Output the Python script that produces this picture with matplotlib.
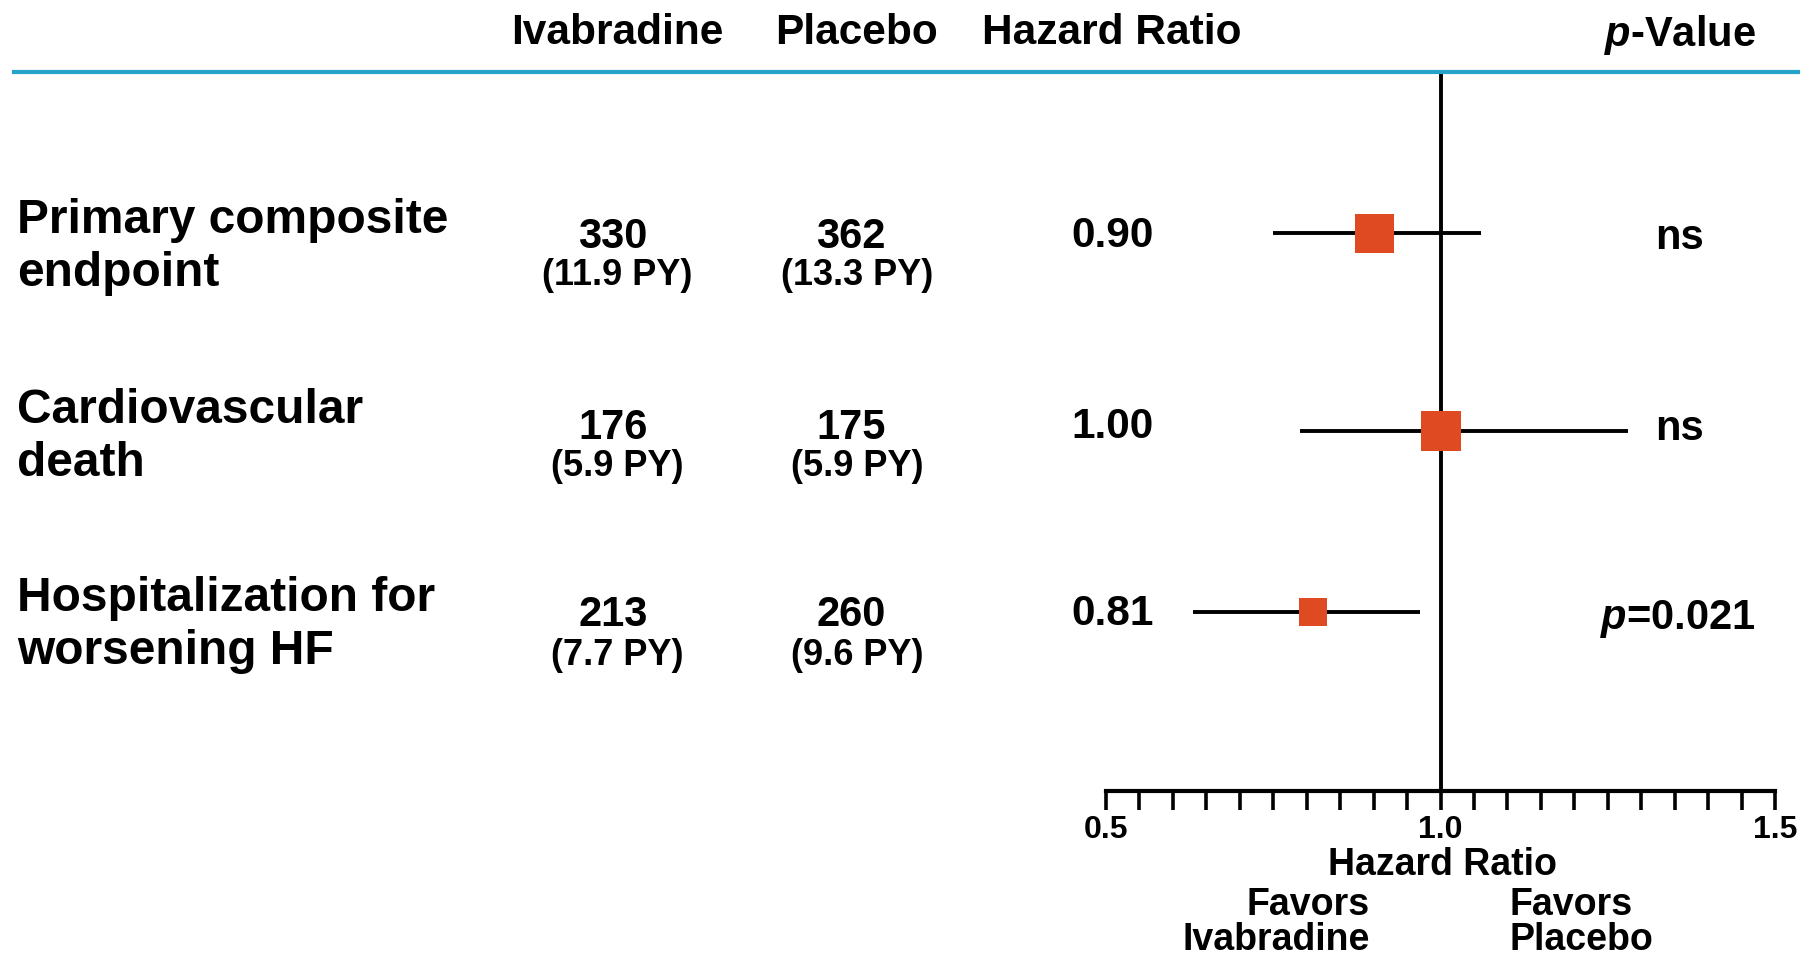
import matplotlib
matplotlib.use("Agg")
import matplotlib.pyplot as plt
from matplotlib.ticker import MultipleLocator, FormatStrFormatter

# Forest plot data
endpoints = ["Primary composite\nendpoint", "Cardiovascular\ndeath", "Hospitalization for\nworsening HF"]
iva_events = ["330", "176", "213"]
iva_rate = ["(11.9 PY)", "(5.9 PY)", "(7.7 PY)"]
pla_events = ["362", "175", "260"]
pla_rate = ["(13.3 PY)", "(5.9 PY)", "(9.6 PY)"]
hr = [0.90, 1.00, 0.81]
ci_low = [0.75, 0.79, 0.63]
ci_high = [1.06, 1.28, 0.97]
p_values = ["ns", "ns", "$p$=0.021"]
marker_px = [39, 40, 28]

W, H = 1816, 958
plt.rcParams["font.family"] = ["Liberation Sans", "DejaVu Sans"]
plt.rcParams["font.weight"] = "bold"
plt.rcParams["mathtext.fontset"] = "custom"
plt.rcParams["mathtext.it"] = "Liberation Sans:italic:bold"
plt.rcParams["mathtext.rm"] = "Liberation Sans:bold"

fig = plt.figure(figsize=(W / 100, H / 100), dpi=100)


def fx(x):
    return x / W


def fy(y):
    return 1 - y / H


def put(x, y, s, size, ha="left", **kw):
    fig.text(fx(x), fy(y), s, fontsize=size, ha=ha, va="baseline",
             fontweight="bold", **kw)


# forest panel: x in hazard ratio, y in pixel rows from top
x0, x1 = 1106, 1775
ytop, ybot = 73, 791
ax = fig.add_axes([fx(x0), fy(ybot), fx(x1 - x0), (ybot - ytop) / H])
ax.set_xlim(0.5, 1.5)
ax.set_ylim(ybot, ytop)
for s in ["left", "right", "top"]:
    ax.spines[s].set_visible(False)
ax.spines["bottom"].set_linewidth(3)
ax.yaxis.set_visible(False)
ax.xaxis.set_major_locator(MultipleLocator(0.5))
ax.xaxis.set_minor_locator(MultipleLocator(0.05))
ax.xaxis.set_major_formatter(FormatStrFormatter("%.1f"))
ax.tick_params(axis="x", which="both", direction="out", length=14, width=2.6,
               labelsize=23, pad=3)
for lab in ax.get_xticklabels():
    lab.set_fontweight("bold")
ax.axvline(1.0, color="black", lw=2.8, zorder=1)
ax.patch.set_visible(False)

row_y = [233, 431, 612]
for i, y in enumerate(row_y):
    ax.plot([ci_low[i], ci_high[i]], [y, y], color="black", lw=2.8,
            solid_capstyle="butt", zorder=2)
    ax.plot(hr[i], y, marker="s", ms=marker_px[i] * 0.72, color="#E04A22",
            mew=0, zorder=3)

# header row and rule
put(617, 44, "Ivabradine", 30.5, ha="center")
put(857, 44, "Placebo", 30.5, ha="center")
put(1112, 44, "Hazard Ratio", 30.5, ha="center")
put(1756, 46, "$p$-Value", 30, ha="right")
fig.add_artist(plt.Line2D([fx(14), fx(1798)], [fy(72), fy(72)],
                          color="#27A2C9", lw=3))

# table rows
label_base = [233, 423, 611]
num_y = [232, 423, 610]
rate_y = [272, 463, 652]
p_y = [234, 425, 614]
for i in range(len(endpoints)):
    first, second = endpoints[i].split("\n")
    put(17, label_base[i], first, 34.5)
    put(17, label_base[i] + 53, second, 34.5)
    put(613, num_y[i] + 16, iva_events[i], 30, ha="center")
    put(617, rate_y[i] + 13, iva_rate[i], 26, ha="center")
    put(851, num_y[i] + 16, pla_events[i], 30, ha="center")
    put(857, rate_y[i] + 13, pla_rate[i], 26, ha="center")
    put(1071, num_y[i] + 15, f"{hr[i]:.2f}", 30.5)
    if p_values[i] == "ns":
        put(1679, p_y[i] + 15, p_values[i], 30, ha="center")
    else:
        put(1756, p_y[i] + 15, p_values[i], 30, ha="right")

# axis captions
put(1442, 875, "Hazard Ratio", 27, ha="center")
put(1370, 915, "Favors", 27, ha="right")
put(1370, 950, "Ivabradine", 27, ha="right")
put(1509, 915, "Favors", 27)
put(1509, 950, "Placebo", 27)

fig.savefig("out.png", dpi=100)
